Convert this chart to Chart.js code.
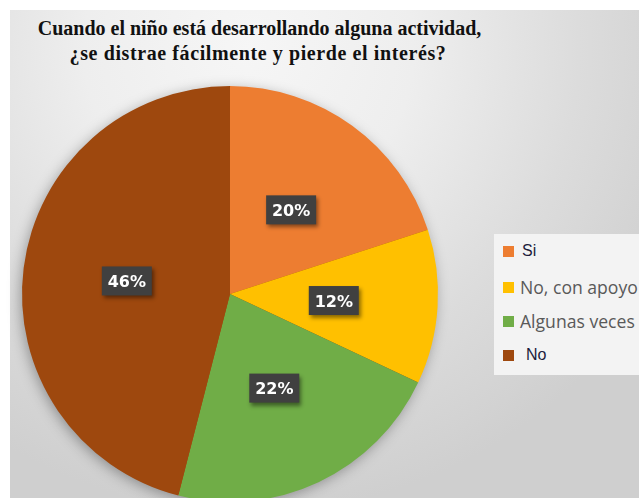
<!DOCTYPE html>
<html>
<head>
<meta charset="utf-8">
<script src="https://cdn.jsdelivr.net/npm/chart.js@4"></script>
<style>
    body { margin: 0; width: 639px; height: 498px; overflow: hidden; background: #fff; position: relative; }
    #bg {
        position: absolute; left: 10px; top: 10px; width: 629px; height: 488px;
        background: radial-gradient(ellipse 75% 95% at 38% 8%, #f6f6f6 0%, #eeeeee 35%, #dcdcdc 70%, #cfcfcf 100%);
    }
    .titleLine {
        position: absolute; left: 0; width: 519px; text-align: center; white-space: nowrap;
        font-family: "Liberation Serif", serif; font-weight: bold; font-size: 20px;
        line-height: 25px; color: #111;
    }
    #chartBox { position: absolute; left: 0; top: 0; width: 639px; height: 510px; }
    #legend {
        position: absolute; left: 494px; top: 234px; width: 145px; height: 141px;
        background: #f3f3f3; overflow: hidden;
    }
    .item { position: absolute; left: 9px; height: 20px; white-space: nowrap; }
    .swatch { position: absolute; left: 0; top: 4px; width: 11px; height: 11px; }
    .label { position: absolute; left: 17px; top: -1px; font-family: "Open Sans", sans-serif; font-size: 17.6px; line-height: 20px; color: #595959; }
    .label.plain { font-family: "Liberation Sans", Arial, sans-serif; font-size: 16px; color: #1c1c3c; left: 19px; }
</style>
</head>
<body>
<div id="bg"></div>
<div class="titleLine" style="top:16px">Cuando el niño está desarrollando alguna actividad,</div>
<div class="titleLine" style="top:41px; width:516px; letter-spacing:0.6px">¿se distrae fácilmente y pierde el interés?</div>
<div id="chartBox"><canvas id="pieChart" width="639" height="510"></canvas></div>
<div id="legend"></div>

<script>
// data
const categories = ['Si', 'No, con apoyo', 'Algunas veces', 'No'];
const percentages = [20, 12, 22, 46];
const sliceColors = ['#ED7D31', '#FFC000', '#70AD47', '#9E480E'];

// legend rows (y offsets inside the legend box)
const legendRows = [8, 44, 78, 112];
const legendPlain = [true, false, false, true];

function buildLegend() {
    const legend = document.getElementById('legend');
    categories.forEach((cat, i) => {
        const item = document.createElement('div');
        item.className = 'item';
        item.style.top = legendRows[i] + 'px';
        const sw = document.createElement('div');
        sw.className = 'swatch';
        sw.style.background = sliceColors[i];
        const lb = document.createElement('div');
        lb.className = legendPlain[i] ? 'label plain' : 'label';
        if (i === 3) lb.style.left = '23px';
        lb.textContent = cat;
        item.appendChild(sw);
        item.appendChild(lb);
        legend.appendChild(item);
    });
}

// soft shadow behind the pie
const pieShadow = {
    id: 'pieShadow',
    beforeDatasetsDraw(chart) {
        const arc = chart.getDatasetMeta(0).data[0];
        if (!arc) return;
        const ctx = chart.ctx;
        ctx.save();
        ctx.shadowColor = 'rgba(0,0,0,0.35)';
        ctx.shadowBlur = 14;
        ctx.shadowOffsetX = -2;
        ctx.shadowOffsetY = 3;
        ctx.fillStyle = '#9E480E';
        ctx.beginPath();
        ctx.arc(arc.x, arc.y, arc.outerRadius - 1, 0, Math.PI * 2);
        ctx.fill();
        ctx.restore();
    }
};

// dark boxed percentage labels
const boxLabels = {
    id: 'boxLabels',
    afterDatasetsDraw(chart) {
        const ctx = chart.ctx;
        const meta = chart.getDatasetMeta(0);
        meta.data.forEach((arc, i) => {
            const pos = arc.tooltipPosition();
            const w = 50, h = 29;
            ctx.save();
            ctx.shadowColor = 'rgba(0,0,0,0.45)';
            ctx.shadowBlur = 4;
            ctx.shadowOffsetX = 2;
            ctx.shadowOffsetY = 3;
            ctx.fillStyle = '#404040';
            ctx.fillRect(pos.x - w / 2, pos.y - h / 2, w, h);
            ctx.restore();
            ctx.save();
            ctx.fillStyle = '#ffffff';
            ctx.font = 'bold 16px "DejaVu Sans"';
            ctx.textAlign = 'center';
            ctx.textBaseline = 'middle';
            ctx.fillText(percentages[i] + '%', pos.x, pos.y + 2);
            ctx.restore();
        });
    }
};

buildLegend();

new Chart(document.getElementById('pieChart').getContext('2d'), {
    type: 'pie',
    data: {
        labels: categories,
        datasets: [{
            data: percentages,
            backgroundColor: sliceColors,
            borderWidth: 0
        }]
    },
    options: {
        responsive: false,
        animation: false,
        layout: {
            padding: { left: 22, right: 201, top: 86, bottom: 8 }
        },
        plugins: {
            legend: { display: false },
            tooltip: { enabled: false },
            title: { display: false }
        }
    },
    plugins: [pieShadow, boxLabels]
});
</script>
</body>
</html>
